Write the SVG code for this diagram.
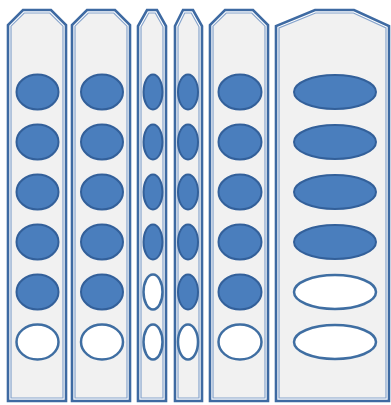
<svg xmlns="http://www.w3.org/2000/svg" width="391" height="405" viewBox="0 0 391 405">
<style>
.col{fill:#ffffff;stroke:#3e6aa2;stroke-width:2.6;stroke-linejoin:miter}
.in{fill:#f1f1f1;stroke:#86a4cc;stroke-width:1.2}
.f{fill:#4a7ebd;stroke:#33609a;stroke-width:2}
.w{fill:#ffffff;stroke:#3f6ea2;stroke-width:2.5}
</style>
<rect width="391" height="405" fill="#ffffff"/>
<g id="col1">
<path class="col" d="M8,401 V25 L23,10 H51 L66,25 V401 Z"/>
<path class="in" d="M11,398 V26.2 L24.2,13 H49.8 L63,26.2 V398 Z"/>
<ellipse class="f" cx="37.5" cy="92" rx="21" ry="17.5"/>
<ellipse class="f" cx="37.5" cy="142" rx="21" ry="17.5"/>
<ellipse class="f" cx="37.5" cy="192" rx="21" ry="17.5"/>
<ellipse class="f" cx="37.5" cy="242" rx="21" ry="17.5"/>
<ellipse class="f" cx="37.5" cy="292" rx="21" ry="17.5"/>
<ellipse class="w" cx="37.5" cy="342" rx="21" ry="17.5"/>
</g>
<g id="col2">
<path class="col" d="M72,401 V25 L87,10 H115 L130,25 V401 Z"/>
<path class="in" d="M75,398 V26.2 L88.2,13 H113.8 L127,26.2 V398 Z"/>
<ellipse class="f" cx="102" cy="92" rx="21" ry="17.5"/>
<ellipse class="f" cx="102" cy="142" rx="21" ry="17.5"/>
<ellipse class="f" cx="102" cy="192" rx="21" ry="17.5"/>
<ellipse class="f" cx="102" cy="242" rx="21" ry="17.5"/>
<ellipse class="f" cx="102" cy="292" rx="21" ry="17.5"/>
<ellipse class="w" cx="102" cy="342" rx="21" ry="17.5"/>
</g>
<g id="col3">
<path class="col" d="M138,401 V26 L147,10 H157 L166,26 V401 Z"/>
<path class="in" d="M141,398 V26.8 L148.7,13 H155.3 L163,26.8 V398 Z"/>
<ellipse class="f" cx="153" cy="92" rx="9.5" ry="17.5"/>
<ellipse class="f" cx="153" cy="142" rx="9.5" ry="17.5"/>
<ellipse class="f" cx="153" cy="192" rx="9.5" ry="17.5"/>
<ellipse class="f" cx="153" cy="242" rx="9.5" ry="17.5"/>
<ellipse class="w" cx="153" cy="292" rx="9.5" ry="17.5"/>
<ellipse class="w" cx="153" cy="342" rx="9.5" ry="17.5"/>
</g>
<g id="col4">
<path class="col" d="M175,401 V26 L183,10 H193 L202,26 V401 Z"/>
<path class="in" d="M178,398 V26.8 L184.7,13 H191.3 L199,26.8 V398 Z"/>
<ellipse class="f" cx="188" cy="92" rx="10" ry="17.5"/>
<ellipse class="f" cx="188" cy="142" rx="10" ry="17.5"/>
<ellipse class="f" cx="188" cy="192" rx="10" ry="17.5"/>
<ellipse class="f" cx="188" cy="242" rx="10" ry="17.5"/>
<ellipse class="f" cx="188" cy="292" rx="10" ry="17.5"/>
<ellipse class="w" cx="188" cy="342" rx="10" ry="17.5"/>
</g>
<g id="col5">
<path class="col" d="M210,401 V25 L225,10 H253 L268,25 V401 Z"/>
<path class="in" d="M213,398 V26.2 L226.2,13 H251.8 L265,26.2 V398 Z"/>
<ellipse class="f" cx="240" cy="92" rx="21.5" ry="17.5"/>
<ellipse class="f" cx="240" cy="142" rx="21.5" ry="17.5"/>
<ellipse class="f" cx="240" cy="192" rx="21.5" ry="17.5"/>
<ellipse class="f" cx="240" cy="242" rx="21.5" ry="17.5"/>
<ellipse class="f" cx="240" cy="292" rx="21.5" ry="17.5"/>
<ellipse class="w" cx="240" cy="342" rx="21.5" ry="17.5"/>
</g>
<g id="col6">
<path class="col" d="M276,401 V26 L315,10 H354 L389,26 V401 Z"/>
<path class="in" d="M279,398 V28 L315.6,13 H353.4 L386,28 V398 Z"/>
<ellipse class="f" cx="335" cy="92" rx="41" ry="17"/>
<ellipse class="f" cx="335" cy="142" rx="41" ry="17"/>
<ellipse class="f" cx="335" cy="192" rx="41" ry="17"/>
<ellipse class="f" cx="335" cy="242" rx="41" ry="17"/>
<ellipse class="w" cx="335" cy="292" rx="41" ry="17"/>
<ellipse class="w" cx="335" cy="342" rx="41" ry="17"/>
</g>
<g id="connectors"/>
</svg>
